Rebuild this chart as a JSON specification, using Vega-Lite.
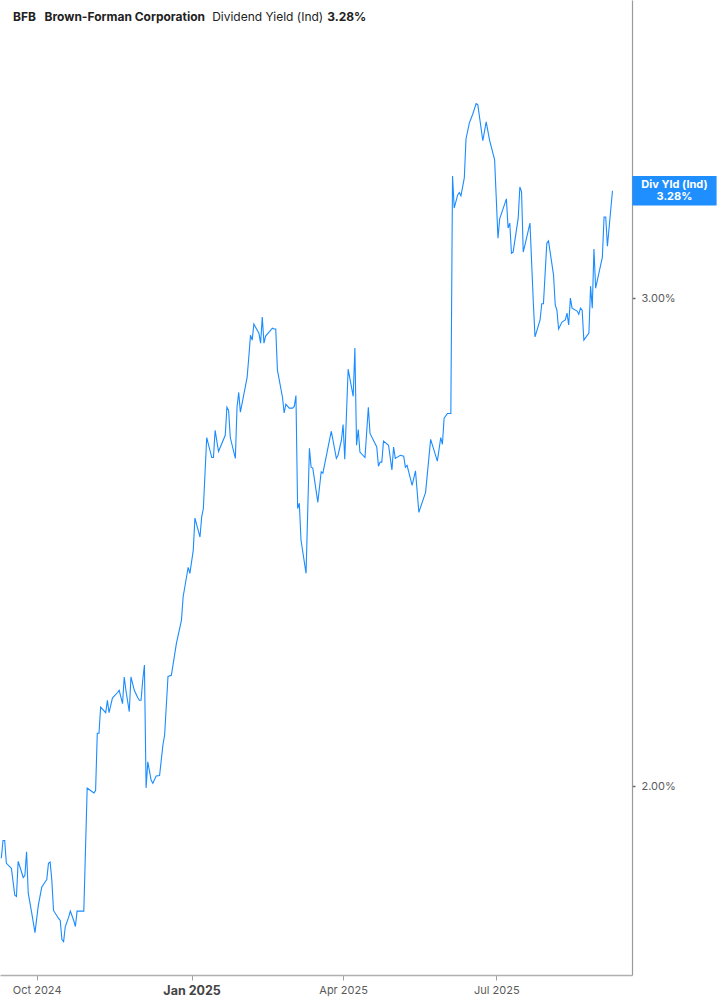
{
  "$schema": "https://vega.github.io/schema/vega-lite/v6.json",
  "width": 632,
  "height": 975,
  "autosize": {"type": "none"},
  "padding": {"left": 0, "top": 0, "right": 85, "bottom": 30},
  "background": "white",
  "config": {"view": {"stroke": null}, "font": "Inter"},
  "title": {
    "text": "BFB\u00a0\u00a0\u00a0Brown-Forman Corporation\u00a0\u00a0\u00a0\u00a0\u00a0\u00a0\u00a0\u00a0\u00a0\u00a0\u00a0\u00a0\u00a0\u00a0\u00a0\u00a0\u00a0\u00a0\u00a0\u00a0\u00a0\u00a0\u00a0\u00a0\u00a0\u00a0\u00a0\u00a0\u00a0\u00a0\u00a0\u00a0\u00a0\u00a0\u00a0\u00a0\u00a0\u00a0\u00a0\u00a0\u00a0\u00a0\u00a03.28%",
    "subtitle": "\u200b\u00a0\u00a0\u00a0\u00a0\u00a0\u00a0\u00a0\u00a0\u00a0\u00a0\u00a0\u00a0\u00a0\u00a0\u00a0\u00a0\u00a0\u00a0\u00a0\u00a0\u00a0\u00a0\u00a0\u00a0\u00a0\u00a0\u00a0\u00a0\u00a0\u00a0\u00a0\u00a0\u00a0\u00a0\u00a0\u00a0\u00a0\u00a0\u00a0\u00a0\u00a0\u00a0\u00a0\u00a0\u00a0\u00a0\u00a0\u00a0\u00a0\u00a0\u00a0\u00a0\u00a0\u00a0\u00a0\u00a0\u00a0\u00a0\u00a0Dividend Yield (Ind)",
    "anchor": "start",
    "frame": "group",
    "orient": "top",
    "offset": -24,
    "dx": 13,
    "font": "Inter",
    "fontSize": 12,
    "fontWeight": "bold",
    "color": "#222222",
    "subtitleFont": "Inter",
    "subtitleFontSize": 12,
    "subtitleFontWeight": "normal",
    "subtitleColor": "#222222",
    "subtitlePadding": -12
  },
  "data": {
    "values": [
      {"date": "2024-09-10", "value": 1.884},
      {"date": "2024-09-11", "value": 1.912},
      {"date": "2024-09-12", "value": 1.912},
      {"date": "2024-09-13", "value": 1.876},
      {"date": "2024-09-15", "value": 1.871},
      {"date": "2024-09-16", "value": 1.868},
      {"date": "2024-09-18", "value": 1.827},
      {"date": "2024-09-19", "value": 1.825},
      {"date": "2024-09-20", "value": 1.879},
      {"date": "2024-09-21", "value": 1.871},
      {"date": "2024-09-23", "value": 1.854},
      {"date": "2024-09-24", "value": 1.857},
      {"date": "2024-09-25", "value": 1.894},
      {"date": "2024-09-26", "value": 1.830},
      {"date": "2024-09-28", "value": 1.801},
      {"date": "2024-09-30", "value": 1.771},
      {"date": "2024-10-02", "value": 1.812},
      {"date": "2024-10-04", "value": 1.839},
      {"date": "2024-10-06", "value": 1.847},
      {"date": "2024-10-07", "value": 1.851},
      {"date": "2024-10-08", "value": 1.876},
      {"date": "2024-10-09", "value": 1.878},
      {"date": "2024-10-10", "value": 1.850},
      {"date": "2024-10-11", "value": 1.804},
      {"date": "2024-10-14", "value": 1.792},
      {"date": "2024-10-15", "value": 1.789},
      {"date": "2024-10-16", "value": 1.761},
      {"date": "2024-10-17", "value": 1.758},
      {"date": "2024-10-18", "value": 1.780},
      {"date": "2024-10-20", "value": 1.794},
      {"date": "2024-10-21", "value": 1.803},
      {"date": "2024-10-23", "value": 1.789},
      {"date": "2024-10-24", "value": 1.780},
      {"date": "2024-10-25", "value": 1.803},
      {"date": "2024-10-28", "value": 1.803},
      {"date": "2024-10-29", "value": 1.803},
      {"date": "2024-10-31", "value": 1.997},
      {"date": "2024-11-02", "value": 1.993},
      {"date": "2024-11-04", "value": 1.989},
      {"date": "2024-11-05", "value": 1.993},
      {"date": "2024-11-06", "value": 2.090},
      {"date": "2024-11-07", "value": 2.090},
      {"date": "2024-11-08", "value": 2.136},
      {"date": "2024-11-11", "value": 2.126},
      {"date": "2024-11-12", "value": 2.148},
      {"date": "2024-11-13", "value": 2.126},
      {"date": "2024-11-15", "value": 2.152},
      {"date": "2024-11-18", "value": 2.162},
      {"date": "2024-11-19", "value": 2.166},
      {"date": "2024-11-21", "value": 2.142},
      {"date": "2024-11-22", "value": 2.190},
      {"date": "2024-11-23", "value": 2.166},
      {"date": "2024-11-25", "value": 2.128},
      {"date": "2024-11-26", "value": 2.190},
      {"date": "2024-11-28", "value": 2.166},
      {"date": "2024-11-30", "value": 2.153},
      {"date": "2024-12-01", "value": 2.148},
      {"date": "2024-12-02", "value": 2.148},
      {"date": "2024-12-03", "value": 2.184},
      {"date": "2024-12-04", "value": 2.212},
      {"date": "2024-12-05", "value": 1.997},
      {"date": "2024-12-06", "value": 2.041},
      {"date": "2024-12-08", "value": 2.010},
      {"date": "2024-12-09", "value": 2.005},
      {"date": "2024-12-11", "value": 2.017},
      {"date": "2024-12-13", "value": 2.018},
      {"date": "2024-12-15", "value": 2.070},
      {"date": "2024-12-16", "value": 2.087},
      {"date": "2024-12-18", "value": 2.191},
      {"date": "2024-12-20", "value": 2.193},
      {"date": "2024-12-23", "value": 2.252},
      {"date": "2024-12-26", "value": 2.296},
      {"date": "2024-12-27", "value": 2.341},
      {"date": "2024-12-30", "value": 2.399},
      {"date": "2024-12-31", "value": 2.387},
      {"date": "2025-01-02", "value": 2.433},
      {"date": "2025-01-03", "value": 2.499},
      {"date": "2025-01-06", "value": 2.460},
      {"date": "2025-01-07", "value": 2.501},
      {"date": "2025-01-08", "value": 2.519},
      {"date": "2025-01-10", "value": 2.672},
      {"date": "2025-01-13", "value": 2.628},
      {"date": "2025-01-14", "value": 2.628},
      {"date": "2025-01-15", "value": 2.688},
      {"date": "2025-01-17", "value": 2.641},
      {"date": "2025-01-21", "value": 2.677},
      {"date": "2025-01-22", "value": 2.740},
      {"date": "2025-01-23", "value": 2.733},
      {"date": "2025-01-24", "value": 2.672},
      {"date": "2025-01-27", "value": 2.626},
      {"date": "2025-01-28", "value": 2.740},
      {"date": "2025-01-29", "value": 2.774},
      {"date": "2025-01-30", "value": 2.729},
      {"date": "2025-02-03", "value": 2.809},
      {"date": "2025-02-04", "value": 2.857},
      {"date": "2025-02-05", "value": 2.909},
      {"date": "2025-02-06", "value": 2.897},
      {"date": "2025-02-07", "value": 2.936},
      {"date": "2025-02-10", "value": 2.914},
      {"date": "2025-02-11", "value": 2.890},
      {"date": "2025-02-12", "value": 2.953},
      {"date": "2025-02-13", "value": 2.890},
      {"date": "2025-02-14", "value": 2.907},
      {"date": "2025-02-18", "value": 2.926},
      {"date": "2025-02-19", "value": 2.924},
      {"date": "2025-02-20", "value": 2.924},
      {"date": "2025-02-21", "value": 2.826},
      {"date": "2025-02-24", "value": 2.763},
      {"date": "2025-02-25", "value": 2.727},
      {"date": "2025-02-26", "value": 2.747},
      {"date": "2025-02-28", "value": 2.738},
      {"date": "2025-03-02", "value": 2.738},
      {"date": "2025-03-03", "value": 2.742},
      {"date": "2025-03-04", "value": 2.767},
      {"date": "2025-03-05", "value": 2.519},
      {"date": "2025-03-06", "value": 2.530},
      {"date": "2025-03-07", "value": 2.454},
      {"date": "2025-03-10", "value": 2.387},
      {"date": "2025-03-12", "value": 2.648},
      {"date": "2025-03-13", "value": 2.607},
      {"date": "2025-03-14", "value": 2.605},
      {"date": "2025-03-17", "value": 2.532},
      {"date": "2025-03-19", "value": 2.597},
      {"date": "2025-03-20", "value": 2.594},
      {"date": "2025-03-25", "value": 2.686},
      {"date": "2025-03-28", "value": 2.626},
      {"date": "2025-03-29", "value": 2.633},
      {"date": "2025-03-31", "value": 2.666},
      {"date": "2025-04-01", "value": 2.701},
      {"date": "2025-04-02", "value": 2.624},
      {"date": "2025-04-04", "value": 2.828},
      {"date": "2025-04-07", "value": 2.765},
      {"date": "2025-04-08", "value": 2.878},
      {"date": "2025-04-09", "value": 2.655},
      {"date": "2025-04-10", "value": 2.690},
      {"date": "2025-04-11", "value": 2.640},
      {"date": "2025-04-14", "value": 2.628},
      {"date": "2025-04-16", "value": 2.740},
      {"date": "2025-04-17", "value": 2.681},
      {"date": "2025-04-21", "value": 2.651},
      {"date": "2025-04-22", "value": 2.609},
      {"date": "2025-04-23", "value": 2.618},
      {"date": "2025-04-24", "value": 2.618},
      {"date": "2025-04-25", "value": 2.664},
      {"date": "2025-04-28", "value": 2.655},
      {"date": "2025-04-30", "value": 2.601},
      {"date": "2025-05-01", "value": 2.651},
      {"date": "2025-05-02", "value": 2.626},
      {"date": "2025-05-05", "value": 2.633},
      {"date": "2025-05-07", "value": 2.631},
      {"date": "2025-05-08", "value": 2.607},
      {"date": "2025-05-09", "value": 2.611},
      {"date": "2025-05-12", "value": 2.568},
      {"date": "2025-05-14", "value": 2.599},
      {"date": "2025-05-16", "value": 2.511},
      {"date": "2025-05-20", "value": 2.553},
      {"date": "2025-05-23", "value": 2.668},
      {"date": "2025-05-27", "value": 2.620},
      {"date": "2025-05-29", "value": 2.672},
      {"date": "2025-05-30", "value": 2.657},
      {"date": "2025-05-31", "value": 2.715},
      {"date": "2025-06-02", "value": 2.726},
      {"date": "2025-06-04", "value": 2.726},
      {"date": "2025-06-05", "value": 3.320},
      {"date": "2025-06-06", "value": 3.233},
      {"date": "2025-06-08", "value": 3.268},
      {"date": "2025-06-09", "value": 3.275},
      {"date": "2025-06-10", "value": 3.266},
      {"date": "2025-06-12", "value": 3.315},
      {"date": "2025-06-13", "value": 3.424},
      {"date": "2025-06-15", "value": 3.470},
      {"date": "2025-06-17", "value": 3.495},
      {"date": "2025-06-19", "value": 3.526},
      {"date": "2025-06-20", "value": 3.523},
      {"date": "2025-06-23", "value": 3.419},
      {"date": "2025-06-25", "value": 3.473},
      {"date": "2025-06-27", "value": 3.421},
      {"date": "2025-06-30", "value": 3.365},
      {"date": "2025-07-02", "value": 3.153},
      {"date": "2025-07-03", "value": 3.204},
      {"date": "2025-07-07", "value": 3.258},
      {"date": "2025-07-08", "value": 3.180},
      {"date": "2025-07-09", "value": 3.193},
      {"date": "2025-07-10", "value": 3.114},
      {"date": "2025-07-11", "value": 3.117},
      {"date": "2025-07-14", "value": 3.206},
      {"date": "2025-07-15", "value": 3.290},
      {"date": "2025-07-16", "value": 3.277},
      {"date": "2025-07-17", "value": 3.117},
      {"date": "2025-07-18", "value": 3.135},
      {"date": "2025-07-21", "value": 3.193},
      {"date": "2025-07-23", "value": 2.988},
      {"date": "2025-07-24", "value": 2.905},
      {"date": "2025-07-27", "value": 2.946},
      {"date": "2025-07-28", "value": 2.986},
      {"date": "2025-07-29", "value": 2.986},
      {"date": "2025-07-31", "value": 3.140},
      {"date": "2025-08-01", "value": 3.146},
      {"date": "2025-08-04", "value": 3.058},
      {"date": "2025-08-05", "value": 2.983},
      {"date": "2025-08-06", "value": 2.970},
      {"date": "2025-08-07", "value": 2.924},
      {"date": "2025-08-09", "value": 2.941},
      {"date": "2025-08-11", "value": 2.946},
      {"date": "2025-08-12", "value": 2.963},
      {"date": "2025-08-13", "value": 2.934},
      {"date": "2025-08-14", "value": 3.000},
      {"date": "2025-08-15", "value": 2.975},
      {"date": "2025-08-18", "value": 2.968},
      {"date": "2025-08-19", "value": 2.960},
      {"date": "2025-08-20", "value": 2.975},
      {"date": "2025-08-21", "value": 2.970},
      {"date": "2025-08-22", "value": 2.897},
      {"date": "2025-08-25", "value": 2.914},
      {"date": "2025-08-26", "value": 3.030},
      {"date": "2025-08-27", "value": 2.975},
      {"date": "2025-08-28", "value": 3.125},
      {"date": "2025-08-29", "value": 3.025},
      {"date": "2025-09-02", "value": 3.104},
      {"date": "2025-09-03", "value": 3.209},
      {"date": "2025-09-04", "value": 3.209},
      {"date": "2025-09-05", "value": 3.132},
      {"date": "2025-09-08", "value": 3.28}
    ]
  },
  "encoding": {
    "x": {
      "field": "date",
      "type": "temporal",
      "scale": {"type": "utc", "domain": [1725859000000, 1758291840000], "nice": false},
      "axis": {
        "orient": "bottom",
        "title": null,
        "grid": false,
        "values": [1727740800000, 1735689600000, 1743465600000, 1751328000000],
        "labelExpr": "utcFormat(datum.value, '%b %Y')",
        "labelFont": "Inter",
        "labelFontSize": {"condition": {"test": "utcmonth(datum.value) == 0", "value": 12.5}, "value": 11},
        "labelFontWeight": {"condition": {"test": "utcmonth(datum.value) == 0", "value": "bold"}, "value": "normal"},
        "labelColor": {"condition": {"test": "utcmonth(datum.value) == 0", "value": "#444444"}, "value": "#5a5a5a"},
        "labelPadding": 4,
        "domainColor": "#b0b0b0",
        "domainWidth": 1.6,
        "tickColor": "#a0a0a0",
        "tickSize": 5,
        "tickWidth": 1,
        "labelOverlap": false
      }
    },
    "y": {
      "field": "value",
      "type": "quantitative",
      "scale": {"type": "log", "domain": [1.7098, 3.843], "nice": false, "zero": false},
      "axis": {
        "orient": "right",
        "title": null,
        "grid": false,
        "values": [2, 3],
        "labelExpr": "format(datum.value, '.2f') + '%'",
        "labelFont": "Inter",
        "labelFontSize": 11,
        "labelColor": "#5a5a5a",
        "labelPadding": 6,
        "domainColor": "#9a9a9a",
        "domainWidth": 1.2,
        "tickColor": "#666666",
        "tickSize": 3,
        "tickWidth": 1.5
      }
    }
  },
  "layer": [
    {
      "mark": {"type": "line", "color": "#1a8cff", "strokeWidth": 1.1, "clip": true, "interpolate": "linear"}
    },
    {
      "transform": [
        {"window": [{"op": "row_number", "as": "rn"}], "sort": [{"field": "date", "order": "descending"}]},
        {"filter": "datum.rn == 1"}
      ],
      "mark": {"type": "point", "shape": "M-1,-0.35H1V0.35H-1Z", "size": 7100, "filled": true, "color": "#1f8fff", "opacity": 1, "strokeWidth": 0, "xOffset": 62}
    },
    {
      "transform": [
        {"window": [{"op": "row_number", "as": "rn"}], "sort": [{"field": "date", "order": "descending"}]},
        {"filter": "datum.rn == 1"},
        {"calculate": "'Div Yld (Ind)\\n' + format(datum.value, '.2f') + '%'", "as": "label"}
      ],
      "mark": {"type": "text", "lineBreak": "\n", "align": "center", "baseline": "middle", "dx": 62, "dy": -6, "font": "Inter", "fontSize": 11, "fontWeight": "bold", "lineHeight": 12, "color": "white"},
      "encoding": {"text": {"field": "label"}}
    }
  ]
}
